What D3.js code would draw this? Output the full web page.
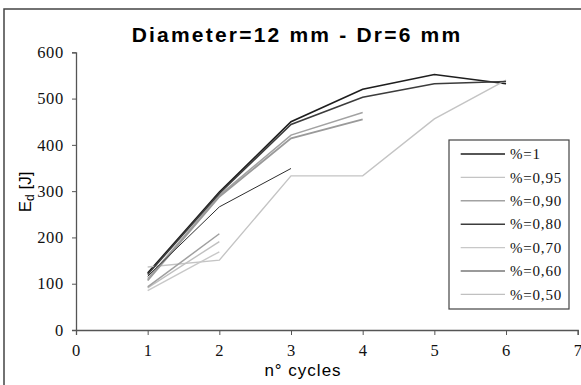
<!DOCTYPE html>
<html>
<head>
<meta charset="utf-8">
<script src="https://cdn.jsdelivr.net/npm/d3@7"></script>
<style>
  body { margin: 0; background: #fff; }
  svg { display: block; }
  .ser { font-family: "Liberation Serif", serif; }
</style>
</head>
<body>
<div id="chart-id"></div>
<script>
// cycles on the x axis, energy on the y axis
var cycles = [1, 2, 3, 4, 5, 6];
var xTicks = [0, 1, 2, 3, 4, 5, 6, 7];
var yTicks = [0, 100, 200, 300, 400, 500, 600];

// one array per curve (E_d in J)
var p100 = [123, 298, 450, 520, 552, 532];
var p095 = [136, 151, 333, 333, 456, 540];
var p090 = [111, 291, 421, 470];
var p080 = [120, 295, 444, 503, 532, 537];
var p070 = [85, 169];
var p060 = [107, 288, 414, 455];
var p050 = [91, 191];
var p040 = [116, 266, 349];
var p030 = [93, 208];

var seriesNames = ["%=1", "%=0,95", "%=0,90", "%=0,80", "%=0,70", "%=0,60", "%=0,50", "%=0,40", "%=0,30"];
var seriesValues = [p100, p095, p090, p080, p070, p060, p050, p040, p030];
// only the first 7 fit in the legend box
var legendCount = 7;

var colors = ["#1e1e1e", "#c4c4c4", "#a2a2a2", "#3c3c3c", "#c8c8c8", "#9a9a9a", "#c0c0c0", "#2e2e2e", "#a0a0a0"];
var widths = [1.6, 1.4, 1.5, 1.6, 1.4, 1.8, 1.4, 1, 1.5];

var series = seriesNames.map(function (n, i) {
    return {
        name: n,
        color: colors[i],
        width: widths[i],
        values: seriesValues[i].map(function (v, j) { return {x: cycles[j], y: v}; })
    };
});

var W = 581, H = 385;
var sans = "'Liberation Sans', Arial, sans-serif";

var svg = d3.select("#chart-id")
    .append("svg")
    .attr("width", W)
    .attr("height", H);

// outer frame, only the top and left edges are inside the picture
svg.append("rect")
    .attr("x", 4)
    .attr("y", 9)
    .attr("width", 620)
    .attr("height", 420)
    .attr("fill", "none")
    .attr("stroke", "#444")
    .attr("stroke-width", 1.5);

var x = d3.scaleLinear().domain([0, 7]).range([76, 577.7]);
var y = d3.scaleLinear().domain([0, 600]).range([330, 52.3]);

// title
svg.append("text")
    .attr("x", 297)
    .attr("y", 42)
    .attr("text-anchor", "middle")
    .attr("font-family", sans)
    .attr("font-weight", "bold")
    .attr("font-size", 21)
    .attr("letter-spacing", 2.2)
    .text("Diameter=12 mm - Dr=6 mm");

// axes
var xAxis = svg.append("g")
    .attr("transform", "translate(0," + y(0) + ")")
    .call(d3.axisBottom(x).tickValues(xTicks).tickSize(5).tickPadding(9).tickFormat(d3.format("d")));

var yAxis = svg.append("g")
    .attr("transform", "translate(" + x(0) + ",0)")
    .call(d3.axisLeft(y).tickValues(yTicks).tickSize(4).tickPadding(8).tickFormat(d3.format("d")));

[xAxis, yAxis].forEach(function (g) {
    g.attr("font-family", null).attr("font-size", null);
    g.select(".domain").attr("stroke", "#555").attr("stroke-width", 1.3);
    g.selectAll(".tick line").attr("stroke", "#555");
    g.selectAll(".tick text")
        .attr("class", "ser")
        .attr("fill", "#111")
        .attr("letter-spacing", 0.7)
        .style("font-size", "16.5px");
});

// axis titles
svg.append("text")
    .attr("x", 303)
    .attr("y", 376)
    .attr("text-anchor", "middle")
    .attr("font-family", sans)
    .attr("font-size", 17)
    .attr("letter-spacing", 1)
    .text("n° cycles");

var yl = svg.append("text")
    .attr("transform", "translate(31,192) rotate(-90)")
    .attr("text-anchor", "middle")
    .attr("font-family", sans)
    .attr("font-size", 17);
yl.append("tspan").text("E");
yl.append("tspan").attr("font-size", 12).attr("dy", 3).text("d");
yl.append("tspan").attr("dy", -3).text(" [J]");

// the curves
var valueLine = d3.line()
    .x(function (d) { return x(d.x); })
    .y(function (d) { return y(d.y); });

svg.selectAll(".line")
    .data(series)
    .enter()
    .append("path")
    .attr("class", "line")
    .attr("d", function (d) { return valueLine(d.values); })
    .attr("fill", "none")
    .attr("stroke", function (d) { return d.color; })
    .attr("stroke-width", function (d) { return d.width; });

// legend
var legend = svg.append("g").attr("transform", "translate(449,140)");
legend.append("rect")
    .attr("width", 120)
    .attr("height", 169)
    .attr("fill", "#fff")
    .attr("stroke", "#444")
    .attr("stroke-width", 1.2);

var rows = legend.selectAll(".row")
    .data(series.slice(0, legendCount))
    .enter()
    .append("g")
    .attr("transform", function (d, i) { return "translate(0," + (14 + i * 23.4) + ")"; });

rows.append("line")
    .attr("x1", 11.7)
    .attr("x2", 56)
    .attr("stroke", function (d) { return d.color; })
    .attr("stroke-width", function (d) { return d.width; });

rows.append("text")
    .attr("x", 61)
    .attr("dy", "0.35em")
    .attr("class", "ser")
    .attr("letter-spacing", 0.8)
    .style("font-size", "15px")
    .attr("fill", "#111")
    .text(function (d) { return d.name; });
</script>
</body>
</html>
